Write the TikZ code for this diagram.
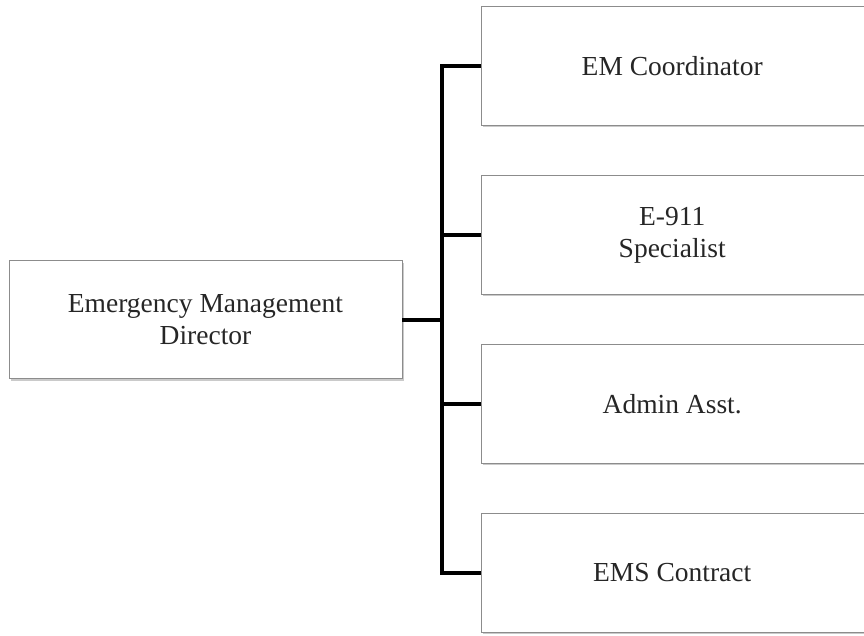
\documentclass[tikz,border=0pt]{standalone}
\usepackage{fontspec}
\setmainfont{Liberation Serif}
\usetikzlibrary{shadows,backgrounds}
\begin{document}
\begin{tikzpicture}[x=1pt,y=-1pt,
  frame/.style={draw=black!45, line width=0.8pt, fill=white,
    drop shadow={shadow xshift=1.5pt, shadow yshift=-2pt, fill=black!35, opacity=0.6}},
  lbl/.style={rectangle, minimum height=118pt, inner sep=0pt, align=center, text=black!85,
    font=\fontsize{27.5}{32}\selectfont},
  box/.style={lbl, frame},
  rlbl/.style={lbl, minimum width=382pt, anchor=west},
  conn/.style={line width=4pt}]
\useasboundingbox (0,0) rectangle (864,635);
\node[box, minimum width=393pt] (dir) at (205.5,319.5) {Emergency Management\\Director};
\node[rlbl] (b1) at (481,66) {EM Coordinator};
\node[rlbl] (b2) at (481,235) {E-911\\Specialist};
\node[rlbl] (b3) at (481,404) {Admin Asst.};
\node[rlbl] (b4) at (481,573) {EMS Contract};
\begin{scope}[on background layer]
  \foreach \b in {b1,b2,b3,b4}
    \path[frame] (\b.north west) rectangle ([xshift=40pt]\b.south east);
\end{scope}
\coordinate (t) at (442,66);
\coordinate (bm) at (442,573);
\coordinate (mid) at (442,319.5);
\coordinate (j2) at (442,235);
\coordinate (j3) at (442,404);
\draw[conn] (dir.east) -- (mid);
\draw[conn] (b1.west) -- (t) -- (bm) -- (b4.west);
\draw[conn] (b2.west) -- (j2);
\draw[conn] (b3.west) -- (j3);
\end{tikzpicture}
\end{document}
